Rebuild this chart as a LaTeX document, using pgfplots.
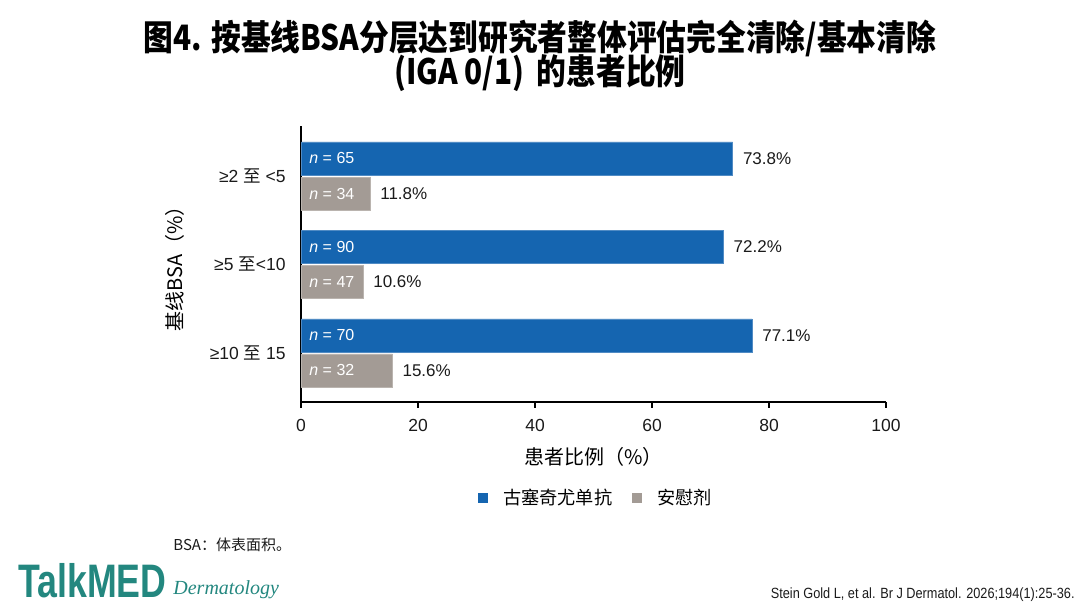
\documentclass[border=0pt]{standalone}
\usepackage{pgfplots}
\pgfplotsset{compat=1.18}
\usepackage{fontspec}
\setmainfont{Liberation Sans}
\newfontfamily\cjk{Noto Sans CJK SC}
\newfontfamily\titlefont{Noto Sans CJK SC}[FakeStretch=0.85]
\newfontfamily\narrowfont{Liberation Sans}[FakeStretch=0.86]
\newfontfamily\logofont{Liberation Sans}[FakeStretch=0.76]
\newfontfamily\dermfont{Liberation Serif}
\definecolor{gblue}{HTML}{1565B0}
\definecolor{ggray}{HTML}{A39B95}
\definecolor{tmteal}{HTML}{23877F}
\definecolor{txt}{HTML}{1A1A1A}
\begin{document}
\begin{tikzpicture}[x=0.5pt,y=0.5pt]
\useasboundingbox (0,0) rectangle (1080,608);
% title
\node[font=\titlefont\bfseries\fontsize{17.5}{18}\selectfont, text=black] at (540,570) {图4. 按基线BSA分层达到研究者整体评估完全清除/基本清除};
\node[font=\titlefont\bfseries\fontsize{17.5}{18}\selectfont, text=black] at (540,535) {(IGA 0/1)\, 的患者比例};
\begin{axis}[
  at={(150.5pt,103pt)}, anchor=south west,
  scale only axis, width=292.5pt, height=138pt,
  xmin=0, xmax=100, ymin=-0.554, ymax=2.565,
  /pgf/number format/assume math mode=true,
  axis lines*=left,
  axis line style={line width=0.75pt, black, -},
  xtick={0,20,40,60,80,100},
  ytick={0,1,2},
  yticklabels={≥10 {\cjk 至} 15, ≥5 {\cjk 至}<10, ≥2 {\cjk 至} <5},
  tick align=outside,
  major tick length=3pt,
  xtick style={line width=0.75pt, black},
  ytick style={draw=none},
  ticklabel style={font=\fontsize{8.75}{10}\selectfont, text=txt},
  yticklabel style={inner sep=0pt, xshift=-4.5pt},
  xticklabel style={yshift=-2pt},
  xlabel={\cjk 患者比例（\%）},
  xlabel style={font=\fontsize{8.75}{10}\selectfont, text=txt},
  every axis x label/.style={at={(axis description cs:0.5,-0.2)}, anchor=center},
  ylabel={\cjk 基线BSA（\%）},
  ylabel style={font=\fontsize{8.75}{10}\selectfont, text=txt},
  every axis y label/.style={at={(axis description cs:-0.215,0.5)}, anchor=center, rotate=90},
  legend style={at={(axis description cs:0.506,-0.348)}, anchor=center, draw=none, fill=none,
    legend columns=-1, font=\cjk\fontsize{9.1}{10}\selectfont,
    /tikz/every odd column/.append style={column sep=5.5pt},
    /tikz/every even column/.append style={column sep=8pt}},
  legend image code/.code={\fill[#1,draw=none] (0pt,-2.5pt) rectangle (5pt,2.5pt);},
  clip=false,
]
\addplot[xbar, bar width=0.373, bar shift=0.198, fill=gblue, draw=gblue!75!white, line width=0.3pt,
  nodes near coords={\pgfmathprintnumber[fixed,precision=1,fixed zerofill]{\pgfplotspointmeta}\%},
  every node near coord/.append style={anchor=west, inner sep=0pt, xshift=5pt, yshift=8.7pt, font=\fontsize{8.5}{10}\selectfont, text=txt}]
  coordinates {(77.1,0) (72.2,1) (73.8,2)};
\addlegendentry{古塞奇尤单抗}
\addplot[xbar, bar width=0.373, bar shift=-0.198, fill=ggray, draw=ggray!75!white, line width=0.3pt,
  nodes near coords={\pgfmathprintnumber[fixed,precision=1,fixed zerofill]{\pgfplotspointmeta}\%},
  every node near coord/.append style={anchor=west, inner sep=0pt, xshift=5pt, yshift=-8.7pt, font=\fontsize{8.5}{10}\selectfont, text=txt}]
  coordinates {(15.6,0) (10.6,1) (11.8,2)};
\addlegendentry{安慰剂}
% n labels inside bars
\addplot[forget plot, draw=none, mark=none, point meta=explicit symbolic,
  nodes near coords,
  every node near coord/.append style={anchor=west, inner sep=0pt, xshift=4pt, font=\fontsize{8}{10}\selectfont, text=white}]
  coordinates {(0,0.198) [{\itshape n} = 70] (0,1.198) [{\itshape n} = 90] (0,2.198) [{\itshape n} = 65]
               (0,-0.198) [{\itshape n} = 32] (0,0.802) [{\itshape n} = 47] (0,1.802) [{\itshape n} = 34]};
\end{axis}
% footnote
\node[anchor=west, font=\cjk\fontsize{7.5}{9}\selectfont, text=txt, inner sep=0pt] at (173,63) {BSA：体表面积。};
% citation
\node[anchor=base east, font=\narrowfont\fontsize{7.4}{8}\selectfont, text=txt, inner sep=0pt] at (1075,9) {Stein Gold L, et al. Br J Dermatol. 2026;194(1):25-36.};
% logo
\node[anchor=base west, font=\logofont\bfseries\fontsize{23.5}{24}\selectfont, text=tmteal, inner sep=0pt] at (18,10) {TalkMED};
\node[anchor=base west, font=\dermfont\itshape\fontsize{10}{12}\selectfont, text=tmteal, inner sep=0pt] at (173,13) {Dermatology};
\end{tikzpicture}
\end{document}
